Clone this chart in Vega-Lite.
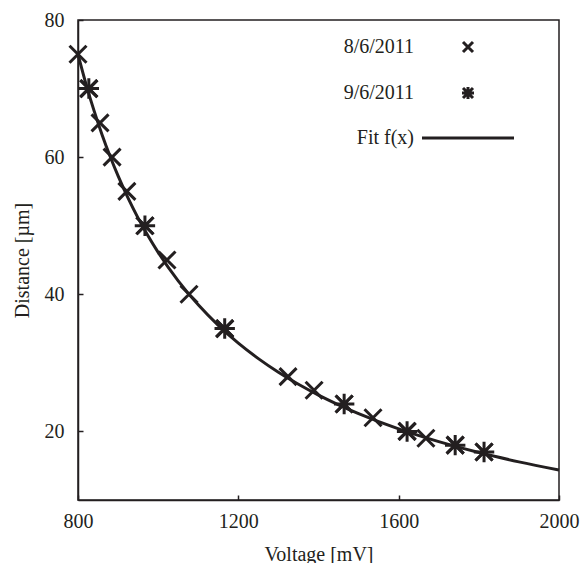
{
  "$schema": "https://vega.github.io/schema/vega-lite/v6.json",
  "width": 481,
  "height": 480,
  "autosize": {"type": "none"},
  "padding": {"left": 78, "top": 20, "right": 22, "bottom": 63},
  "background": "white",
  "config": {
    "font": "Liberation Serif",
    "view": {"stroke": "#231f20", "strokeWidth": 1.5},
    "axis": {
      "grid": false,
      "labelFlush": false,
      "domainColor": "#231f20",
      "domainWidth": 1.5,
      "tickColor": "#231f20",
      "tickWidth": 1.5,
      "tickSize": -5,
      "labelFont": "Liberation Serif",
      "labelFontSize": 20,
      "labelColor": "#231f20",
      "titleFont": "Liberation Serif",
      "titleFontSize": 20,
      "titleFontWeight": "normal",
      "titleColor": "#231f20"
    }
  },
  "datasets": {
    "meas": [
      {"series": "8/6/2011", "V": 800, "d": 75},
      {"series": "8/6/2011", "V": 827, "d": 70},
      {"series": "8/6/2011", "V": 855, "d": 65},
      {"series": "8/6/2011", "V": 885, "d": 60},
      {"series": "8/6/2011", "V": 922, "d": 55},
      {"series": "8/6/2011", "V": 967, "d": 50},
      {"series": "8/6/2011", "V": 1022, "d": 45},
      {"series": "8/6/2011", "V": 1077, "d": 40},
      {"series": "8/6/2011", "V": 1166, "d": 35},
      {"series": "8/6/2011", "V": 1324, "d": 28},
      {"series": "8/6/2011", "V": 1389, "d": 26},
      {"series": "8/6/2011", "V": 1464, "d": 24},
      {"series": "8/6/2011", "V": 1536, "d": 22},
      {"series": "8/6/2011", "V": 1621, "d": 20},
      {"series": "8/6/2011", "V": 1668, "d": 19},
      {"series": "8/6/2011", "V": 1741, "d": 18},
      {"series": "8/6/2011", "V": 1813, "d": 17},
      {"series": "9/6/2011", "V": 827, "d": 70},
      {"series": "9/6/2011", "V": 967, "d": 50},
      {"series": "9/6/2011", "V": 1166, "d": 35},
      {"series": "9/6/2011", "V": 1464, "d": 24},
      {"series": "9/6/2011", "V": 1621, "d": 20},
      {"series": "9/6/2011", "V": 1741, "d": 18},
      {"series": "9/6/2011", "V": 1813, "d": 17}
    ],
    "fit": [
      {"V": 800, "d": 75.0},
      {"V": 820, "d": 70.66},
      {"V": 840, "d": 66.78},
      {"V": 860, "d": 63.28},
      {"V": 880, "d": 60.13},
      {"V": 900, "d": 57.26},
      {"V": 925, "d": 54.02},
      {"V": 950, "d": 51.11},
      {"V": 975, "d": 48.49},
      {"V": 1000, "d": 46.11},
      {"V": 1050, "d": 41.96},
      {"V": 1100, "d": 38.46},
      {"V": 1150, "d": 35.47},
      {"V": 1200, "d": 32.88},
      {"V": 1250, "d": 30.62},
      {"V": 1300, "d": 28.63},
      {"V": 1350, "d": 26.87},
      {"V": 1400, "d": 25.29},
      {"V": 1450, "d": 23.88},
      {"V": 1500, "d": 22.6},
      {"V": 1600, "d": 20.37},
      {"V": 1700, "d": 18.51},
      {"V": 1800, "d": 16.92},
      {"V": 1900, "d": 15.56},
      {"V": 2000, "d": 14.37}
    ]
  },
  "encoding": {
    "x": {"field": "V", "type": "quantitative", "scale": {"domain": [800, 2000], "nice": false, "zero": false, "padding": 0},
          "axis": {"values": [800, 1200, 1600, 2000], "format": "d", "title": "Voltage [mV]", "labelPadding": 16, "titlePadding": 13}},
    "y": {"field": "d", "type": "quantitative", "scale": {"domain": [10, 80], "nice": false, "zero": false, "padding": 0},
          "axis": {"values": [20, 40, 60, 80], "format": "d", "title": "Distance [\u00b5m]", "labelPadding": 19, "titlePadding": 12}}
  },
  "layer": [
    {
      "data": {"name": "fit"},
      "mark": {"type": "line", "color": "#231f20", "strokeWidth": 3, "interpolate": "monotone"}
    },
    {
      "data": {"name": "meas"},
      "mark": {"type": "point", "filled": false, "strokeWidth": 3, "size": 289, "color": "#231f20", "opacity": 1},
      "encoding": {
        "shape": {
          "field": "series", "type": "nominal",
          "scale": {
            "domain": ["8/6/2011", "9/6/2011", "Fit f(x)"],
            "range": ["M-1,-1L1,1M-1,1L1,-1", "M-1,-1L1,1M-1,1L1,-1M0,-1.2L0,1.2M-1.2,0L1.2,0", "M-9.2,0L9.2,0"]
          },
          "legend": {
            "title": null,
            "orient": "none",
            "legendX": 380,
            "legendY": 17,
            "symbolSize": 100,
            "symbolStrokeWidth": 3,
            "symbolStrokeColor": "#231f20",
            "symbolFillColor": "transparent",
            "labelAlign": "right",
            "labelOffset": -64,
            "labelFont": "Liberation Serif",
            "labelFontSize": 20,
            "labelColor": "#231f20",
            "rowPadding": 23
          }
        }
      }
    }
  ]
}
